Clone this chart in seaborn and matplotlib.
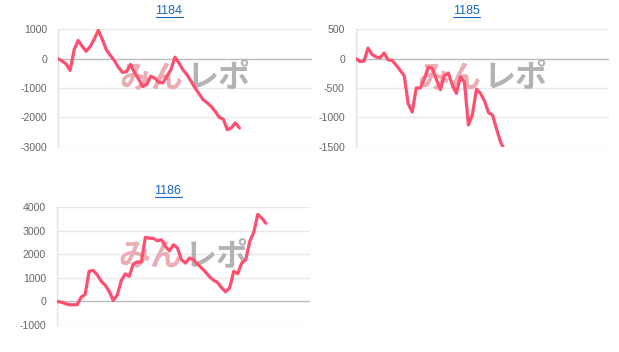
import numpy as np
import pandas as pd
import matplotlib
matplotlib.use("Agg")
import matplotlib.pyplot as plt
import seaborn as sns
from matplotlib.lines import Line2D

# ---- data ----
titles = ["1184", "1185", "1186"]
s1184 = [0, -80, -180, -400, 300, 620, 420, 250, 420, 670, 970, 650, 300, 110, -70, -300,
         -470, -440, -200, -480, -700, -950, -880, -600, -660, -800, -830, -600, -380, 50,
         -150, -380, -550, -770, -1000, -1200, -1400, -1500, -1630, -1800, -2000, -2060,
         -2420, -2360, -2190, -2360]
s1185 = [0, -50, -40, 180, 70, 30, 15, 95, -20, -30, -110, -200, -290, -770, -910, -500,
         -500, -350, -150, -165, -350, -530, -290, -245, -450, -590, -310, -400, -1130,
         -950, -520, -590, -720, -920, -960, -1200, -1420, -1560]
s1186 = [0, -30, -85, -140, -140, -140, 180, 300, 1280, 1320, 1140, 860, 690, 430, 40, 270,
         890, 1170, 1070, 1590, 1680, 1680, 2720, 2690, 2680, 2580, 2620, 2340, 2150, 2410,
         2270, 1770, 1630, 1845, 1770, 1590, 1420, 1250, 1050, 900, 800, 580, 410, 580,
         1280, 1180, 1630, 1770, 2550, 2940, 3700, 3540, 3320]
series = [s1184, s1185, s1186]
yticks = [[-3000, -2000, -1000, 0, 1000],
          [-1500, -1000, -500, 0, 500],
          [-1000, 0, 1000, 2000, 3000, 4000]]
n_slots = 64
watermark_a = "みん"
watermark_b = "レポ"

# ---- style ----
sns.set_style("white")
plt.rcParams["font.family"] = ["Liberation Sans", "DejaVu Sans"]

W, H = 619, 352
fig = plt.figure(figsize=(W / 100, H / 100), dpi=100)

rects = [
    [58 / W, 1 - 146.7 / H, 254 / W, 117.4 / H],
    [356 / W, 1 - 146.7 / H, 253 / W, 117.4 / H],
    [57 / W, 1 - 325 / H, 253 / W, 117.7 / H],
]
title_xy = [(169 / W, 1 - 11 / H), (466.7 / W, 1 - 11 / H), (168 / W, 1 - 191 / H)]

line_color = "#ff4f70"
title_color = "#1a66cc"

title_texts = []
for rect, s, yt, ttl, txy in zip(rects, series, yticks, titles, title_xy):
    ax = fig.add_axes(rect)
    df = pd.DataFrame({"x": np.arange(len(s)), "y": s})
    sns.lineplot(data=df, x="x", y="y", ax=ax, color=line_color, linewidth=2.3,
                 zorder=3)
    ax.set_xlim(0, n_slots - 1)
    ax.set_ylim(yt[0], yt[-1])
    ax.set_yticks(yt)
    ax.set_yticklabels([str(v) for v in yt])
    ax.set_xticks([])
    ax.set_xlabel("")
    ax.set_ylabel("")
    ax.yaxis.grid(True, color="#e9e9e9", linewidth=1)
    ax.set_axisbelow(True)
    for gl, v in zip(ax.get_ygridlines(), yt):
        if v == 0:
            gl.set_color("#bcbcbc")
    for side in ["top", "right", "bottom"]:
        ax.spines[side].set_visible(False)
    ax.spines["left"].set_color("#e3e3e3")
    ax.spines["left"].set_linewidth(1)
    ax.tick_params(axis="y", length=6, width=1, color="#e6e6e6", pad=2,
                   labelsize=7.6, labelcolor="#666666")
    # watermark
    ax.text(0.495, 0.58, watermark_a, transform=ax.transAxes, ha="right", va="center",
            fontsize=23, fontweight="bold", color="#e9adb3",
            family=["Noto Sans CJK JP"], zorder=1.5)
    ax.text(0.505, 0.58, watermark_b, transform=ax.transAxes, ha="left", va="center",
            fontsize=23, fontweight="bold", color="#b3b3b3",
            family=["Noto Sans CJK JP"], zorder=1.5)
    t = fig.text(txy[0], txy[1], ttl, ha="center", va="center", fontsize=9,
                 color=title_color)
    title_texts.append(t)

# underline the titles (link style)
fig.canvas.draw()
renderer = fig.canvas.get_renderer()
for t in title_texts:
    bb = t.get_window_extent(renderer)
    y = (bb.y0 + 0.5) / H
    fig.add_artist(Line2D([bb.x0 / W, bb.x1 / W], [y, y], color=title_color,
                          linewidth=0.8, transform=fig.transFigure))

fig.savefig("out.png", dpi=100)
